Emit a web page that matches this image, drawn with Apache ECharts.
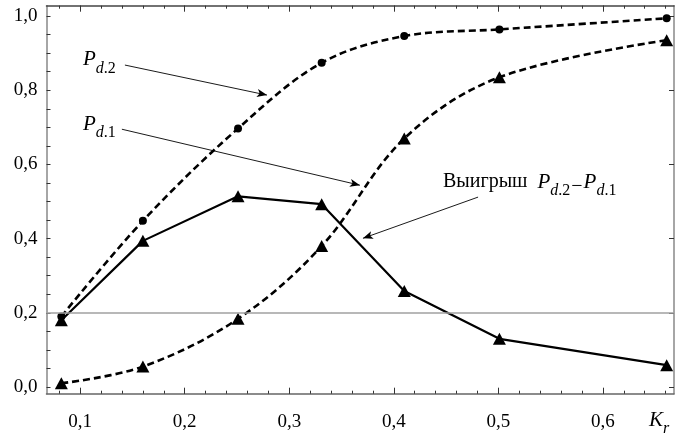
<!DOCTYPE html>
<html>
<head>
<meta charset="utf-8">
<script src="https://cdn.jsdelivr.net/npm/echarts@6/dist/echarts.min.js"></script>
<style>html,body{margin:0;padding:0;background:#fff}#c{width:675px;height:436px}</style>
</head>
<body>
<div id="c"></div>
<script>
// ---- data ----
const kr   = [0.082, 0.160, 0.251, 0.331, 0.410, 0.501, 0.661];
const pd2  = [0.190, 0.448, 0.697, 0.874, 0.946, 0.964, 0.994];
const pd1  = [0.010, 0.055, 0.184, 0.380, 0.670, 0.835, 0.935];
const gain = [0.180, 0.394, 0.514, 0.493, 0.259, 0.130, 0.059];
const xTickLabels = [0.1, 0.2, 0.3, 0.4, 0.5, 0.6];
const yTickLabels = [0.0, 0.2, 0.4, 0.6, 0.8, 1.0];
const refLevel = 0.2;

const XMIN = 0.0678, XMAX = 0.668, YMIN = -0.018, YMAX = 1.028;
const xMinor = []; for (let i = 4; i <= 33; i++) xMinor.push(+(i * 0.02).toFixed(2));
const yMinor = []; for (let i = 0; i <= 20; i++) yMinor.push(+(i * 0.05).toFixed(2));

const FONT = 'Liberation Serif';
const fmt = v => v.toFixed(1).replace('.', ',');
const pair = (xs, ys) => xs.map((x, i) => [x, ys[i]]);

const rich = {
  p: {fontFamily: FONT, fontStyle: 'italic', fontSize: 21, lineHeight: 22, color: '#000', verticalAlign: 'top'},
  s: {fontFamily: FONT, fontStyle: 'italic', fontSize: 16, lineHeight: 16, padding: [11, 0, 0, 0], color: '#000', verticalAlign: 'top'},
  n: {fontFamily: FONT, fontSize: 16, lineHeight: 16, padding: [11, 0, 0, 0], color: '#000', verticalAlign: 'top'},
  t: {fontFamily: FONT, fontSize: 20, lineHeight: 22, color: '#000', verticalAlign: 'top'},
  m: {fontFamily: FONT, fontSize: 20, lineHeight: 20, padding: [5, 1, 0, 1], color: '#000', verticalAlign: 'top'}
};

function textPoint(x, y, text) {
  return {coord: [x, y], symbol: 'circle', symbolSize: 0,
    label: {show: true, position: [0, 0], align: 'left', verticalAlign: 'top', formatter: text, rich: rich}};
}

const arrowStyle = {color: '#000', width: 0.9, type: 'solid'};
const tickLabelStyle = {fontFamily: FONT, fontSize: 19, color: '#000'};

const chart = echarts.init(document.getElementById('c'), null, {renderer: 'canvas'});
const baseX = {type: 'value', min: XMIN, max: XMAX, splitLine: {show: false}};
const baseY = {type: 'value', min: YMIN, max: YMAX, splitLine: {show: false}};

chart.setOption({
  animation: false,
  backgroundColor: '#fff',
  textStyle: {fontFamily: FONT, fontSize: 19, color: '#000'},
  grid: {left: 46.5, right: 1, top: 5.7, bottom: 42.3, containLabel: false},
  xAxis: [
    Object.assign({}, baseX, {position: 'bottom',
      axisLine: {show: true, onZero: false, lineStyle: {color: '#666', width: 1.5}},
      axisTick: {show: true, inside: true, length: 6, customValues: xTickLabels, lineStyle: {color: '#333'}},
      axisLabel: Object.assign({show: true, customValues: xTickLabels, formatter: fmt, margin: 19}, tickLabelStyle)}),
    Object.assign({}, baseX, {position: 'bottom',
      axisLine: {show: false, onZero: false},
      axisTick: {show: true, inside: true, length: 3, customValues: xMinor, lineStyle: {color: '#333'}},
      axisLabel: {show: false}}),
    Object.assign({}, baseX, {position: 'top',
      axisLine: {show: true, onZero: false, lineStyle: {color: '#444', width: 1.5}},
      axisTick: {show: true, inside: true, length: 6, customValues: xTickLabels, lineStyle: {color: '#333'}},
      axisLabel: {show: false}}),
    Object.assign({}, baseX, {position: 'top',
      axisLine: {show: false, onZero: false},
      axisTick: {show: true, inside: true, length: 3, customValues: xMinor, lineStyle: {color: '#333'}},
      axisLabel: {show: false}})
  ],
  yAxis: [
    Object.assign({}, baseY, {position: 'left',
      axisLine: {show: true, onZero: false, lineStyle: {color: '#888', width: 1.5}},
      axisTick: {show: true, inside: true, length: 4, customValues: yMinor, lineStyle: {color: '#333'}},
      axisLabel: Object.assign({show: true, customValues: yTickLabels, formatter: fmt, margin: 9}, tickLabelStyle)}),
    Object.assign({}, baseY, {position: 'right',
      axisLine: {show: true, onZero: false, lineStyle: {color: '#888', width: 1.5}},
      axisTick: {show: true, inside: true, length: 5, customValues: yTickLabels, lineStyle: {color: '#333'}},
      axisLabel: {show: false}})
  ],
  graphic: [{
    type: 'text', left: 649, top: 410, z: 100,
    style: {text: '{p|K}{s|r}', rich: rich}
  }],
  series: [
    {
      name: 'Pd2', type: 'line', data: pair(kr, pd2), smooth: 0.35,
      symbol: 'circle', symbolSize: 8, itemStyle: {color: '#000'},
      lineStyle: {color: '#000', width: 2.6, type: [7, 4]},
      markLine: {silent: true, symbol: 'none', label: {show: false},
        lineStyle: {color: '#a0a0a0', width: 1.5, type: 'solid'},
        data: [{yAxis: refLevel}]},
      z: 3
    },
    {
      name: 'Pd1', type: 'line', data: pair(kr, pd1), smooth: 0.35,
      symbol: 'triangle', symbolSize: [13, 12], itemStyle: {color: '#000'},
      lineStyle: {color: '#000', width: 2.6, type: [7, 4]},
      z: 3
    },
    {
      name: 'gain', type: 'line', data: pair(kr, gain),
      symbol: 'triangle', symbolSize: [13, 12], itemStyle: {color: '#000'},
      lineStyle: {color: '#000', width: 2.2, type: 'solid'},
      markLine: {silent: true, symbol: ['none', 'arrow'], symbolSize: [6, 10], label: {show: false},
        lineStyle: arrowStyle,
        data: [
          [{coord: [0.1428, 0.868]}, {coord: [0.2787, 0.787]}],
          [{coord: [0.1399, 0.695]}, {coord: [0.3676, 0.544]}],
          [{coord: [0.4806, 0.512]}, {coord: [0.3705, 0.401]}]
        ]},
      markPoint: {silent: true, data: [
        textPoint(0.1026, 0.910, '{p|P}{s|d}{n|.2}'),
        textPoint(0.1026, 0.737, '{p|P}{s|d}{n|.1}'),
        textPoint(0.447, 0.581, '{t|Выигрыш}{t|  }{p|P}{s|d}{n|.2}{m|−}{p|P}{s|d}{n|.1}')
      ]},
      z: 4
    }
  ]
});
</script>
</body>
</html>
